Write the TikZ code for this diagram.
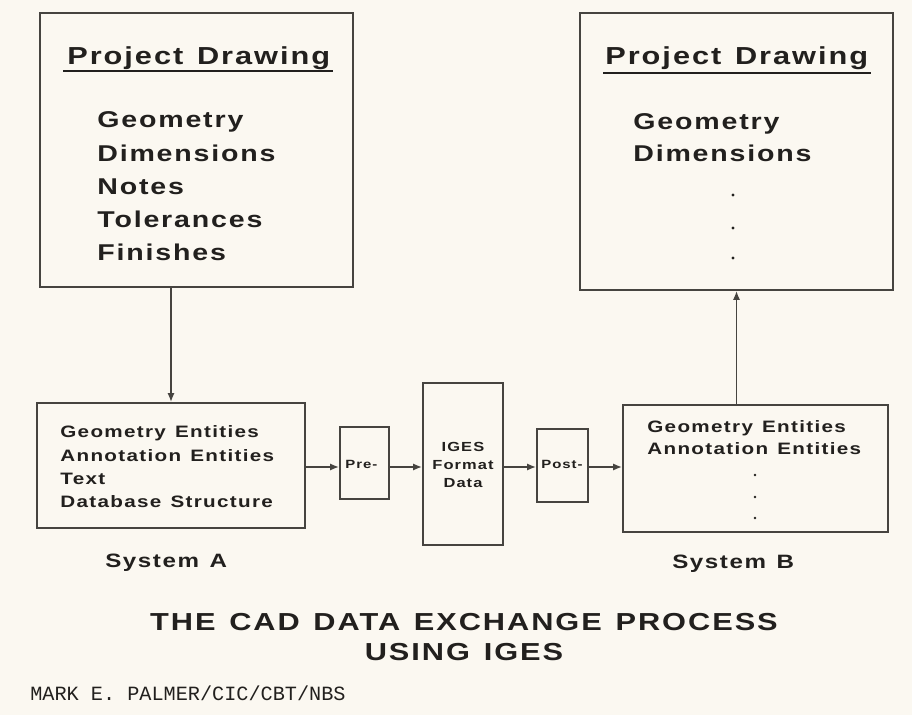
\documentclass[tikz,border=0pt]{standalone}
\usepackage{fontspec}
\setmainfont{Liberation Sans}[FakeStretch=1.25,LetterSpace=8,WordSpace=1.3]
\setmonofont{Liberation Mono}
\usetikzlibrary{arrows.meta, positioning, calc}
\usepackage{xcolor}
\definecolor{paper}{RGB}{251,248,241}
\definecolor{ink}{RGB}{34,32,30}
\definecolor{frame}{RGB}{70,68,64}

\begin{document}
\begin{tikzpicture}[x=0.02cm, y=-0.02cm,
  box/.style={draw=frame, line width=1.2pt, inner sep=0pt},
  lbl/.style={anchor=base west, inner sep=0pt, text=ink, font=\bfseries\fontsize{#1}{#1}\selectfont},
  lbl/.default=13,
  mid/.style={lbl=#1, anchor=base},
  uline/.style={draw=ink, line width=1.1pt},
  arrow/.style={draw=frame, line width=0.8pt, -{Latex[length=5pt,width=4pt]}},
  dot/.style={fill=ink}]
\fill[paper] (0,0) rectangle (912,715);
\useasboundingbox (0,0) rectangle (912,715);

% boxes
\node[box, minimum width=6.26cm, minimum height=5.48cm] (projA) at (196.5,150) {};
\node[box, minimum width=6.26cm, minimum height=5.54cm] (projB) at (736.5,151.5) {};
\node[box, minimum width=5.36cm, minimum height=2.5cm] (sysA) at (171,465.5) {};
\node[box, minimum width=5.3cm, minimum height=2.54cm] (sysB) at (755.5,468.5) {};
\node[box, minimum width=0.98cm, minimum height=1.44cm] (pre) at (364.5,463) {};
\node[box, minimum width=1.6cm, minimum height=3.24cm] (iges) at (463,464) {};
\node[box, minimum width=1.02cm, minimum height=1.46cm] (post) at (562.5,465.5) {};

% project drawing, system A side
\node[lbl=14] (headA) at (67,65) {Project Drawing};
\draw[uline] ($(headA.base west)+(-4,6)$) -- ($(headA.base east)+(2,6)$);
\node[lbl] (geoA) at (97,128) {Geometry};
\node[lbl] (dimA) at (97,162) {Dimensions};
\node[lbl] (notesA) at (97,195) {Notes};
\node[lbl] (tolA) at (97,228) {Tolerances};
\node[lbl] (finA) at (97,261) {Finishes};

% project drawing, system B side
\node[lbl=14] (headB) at (605,65) {Project Drawing};
\draw[uline] ($(headB.base west)+(-2,8)$) -- ($(headB.base east)+(2,8)$);
\node[lbl] (geoB) at (633,130) {Geometry};
\node[lbl] (dimB) at (633,162) {Dimensions};
\fill[dot] (733,195) circle (1.6) (733,228) circle (1.6) (733,258) circle (1.6);

% system A
\node[lbl=9.4] (geoEntA) at (60,438) {Geometry Entities};
\node[lbl=9.4] (annEntA) at (60,462) {Annotation Entities};
\node[lbl=9.4] (textA) at (60,485) {Text};
\node[lbl=9.4] (dbA) at (60,508) {Database Structure};
\node[lbl=11] (nameA) at (105,567) {System A};

% system B
\node[lbl=9.4] (geoEntB) at (647,433) {Geometry Entities};
\node[lbl=9.4] (annEntB) at (647,455) {Annotation Entities};
\fill[dot] (755,475) circle (1.4) (755,497) circle (1.4) (755,518) circle (1.4);
\node[lbl=11] (nameB) at (672,568) {System B};

% processors and neutral file
\node[lbl=6.8] (preText) at (345,469) {Pre-};
\node[lbl=6.8] (postText) at (541,469) {Post-};
\node[mid=7.5] (igesA) at (463,452) {IGES};
\node[mid=7.5] (igesB) at (463,470) {Format};
\node[mid=7.5] (igesC) at (463,488) {Data};

% connectors
\coordinate (flow) at (0,467);
\draw[arrow] (sysA.east |- flow) -- (pre.west |- flow);
\draw[arrow] (pre.east |- flow) -- (iges.west |- flow);
\draw[arrow] (iges.east |- flow) -- (post.west |- flow);
\draw[arrow] (post.east |- flow) -- (sysB.west |- flow);
\draw[arrow] (sysA.north |- projA.south) -- (sysA.north);
\draw[arrow] (projB.south |- sysB.north) -- (projB.south);

% caption
\node[mid=14] (capA) at (464,630) {THE CAD DATA EXCHANGE PROCESS};
\node[mid=14] (capB) at (464,660) {USING IGES};
\node[anchor=base west, inner sep=0pt, text=ink, font=\ttfamily\fontsize{11.5}{12}\selectfont] (credit) at (30,700) {MARK E. PALMER/CIC/CBT/NBS};
\end{tikzpicture}
\end{document}
